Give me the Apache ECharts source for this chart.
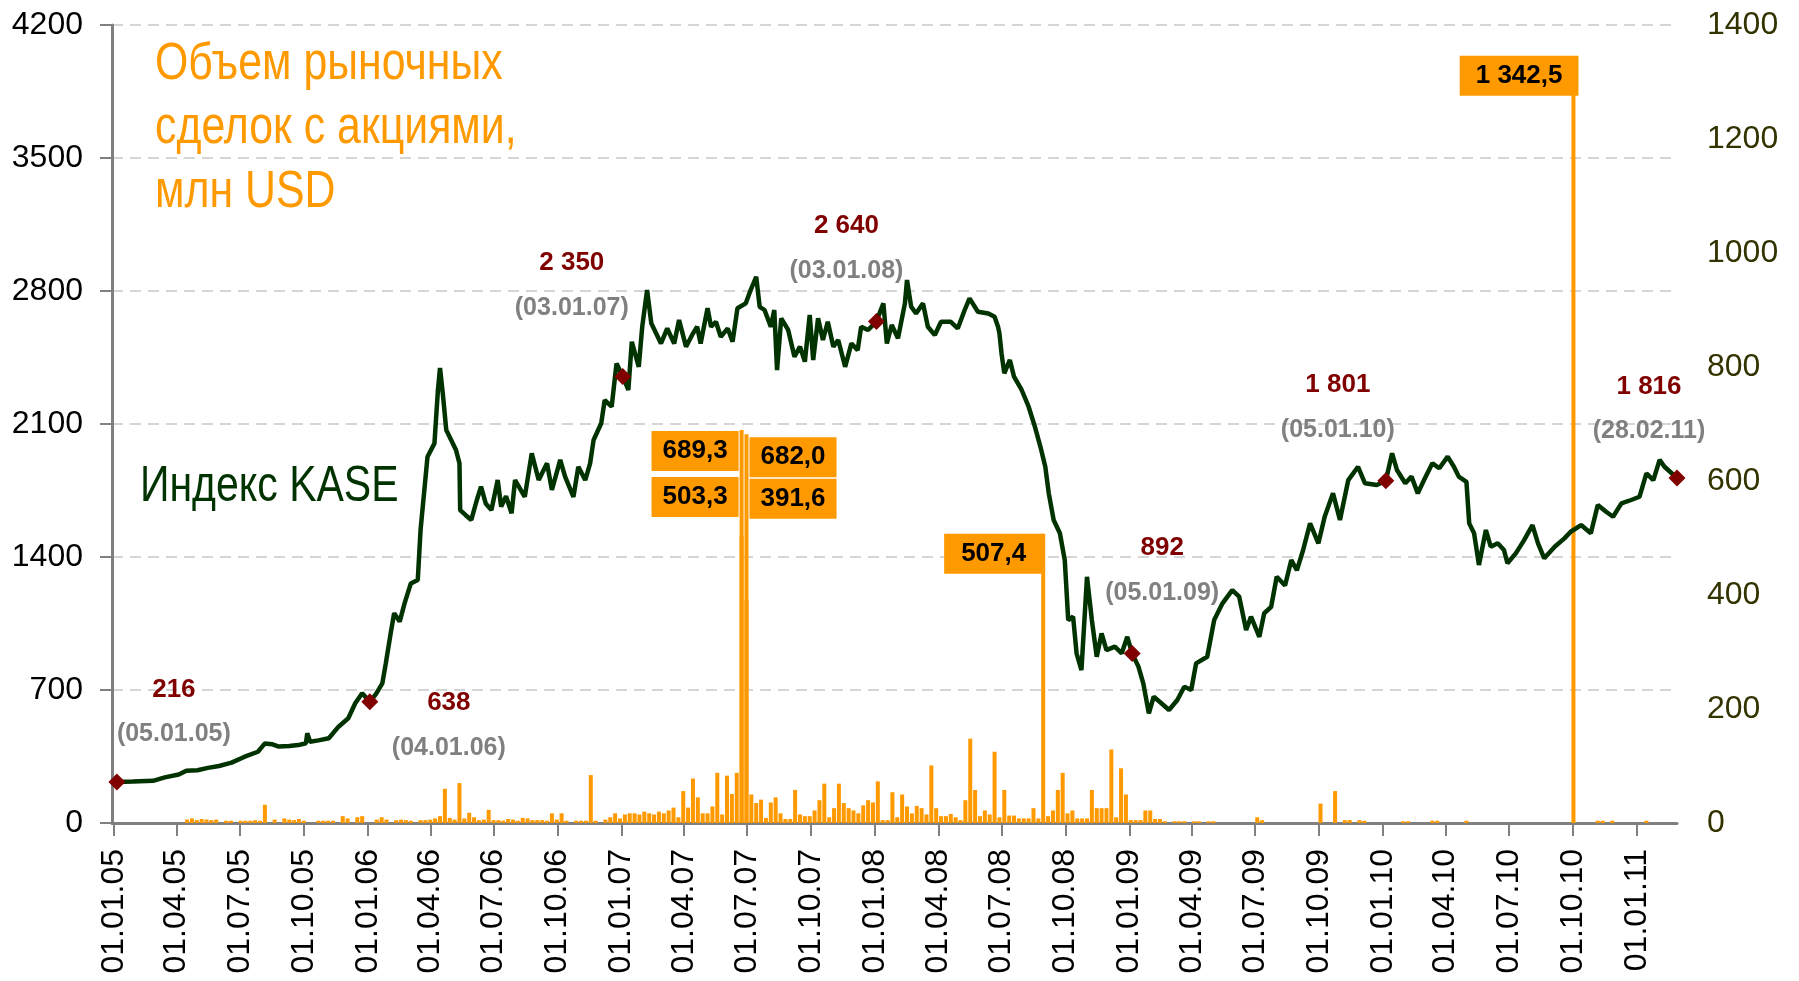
<!DOCTYPE html>
<html lang="ru">
<head>
<meta charset="UTF-8">
<title>Индекс KASE и объем сделок с акциями</title>
<script src="https://cdn.jsdelivr.net/npm/echarts@6/dist/echarts.min.js"></script>
<style>
  html, body { margin: 0; padding: 0; background: #fff; }
  #chart { width: 1799px; height: 981px; }
</style>
</head>
<body>
<div id="chart"></div>
<script>
// ---- data ----
let kaseDates = [
  '2005-01-05','2005-01-28','2005-02-26','2005-03-15','2005-04-04','2005-04-15','2005-05-01','2005-05-16','2005-06-01','2005-06-19',
  '2005-07-08','2005-07-27','2005-08-06','2005-08-16','2005-08-26','2005-09-10','2005-09-23','2005-10-04','2005-10-06','2005-10-10',
  '2005-10-22','2005-11-06','2005-11-20','2005-12-04','2005-12-14','2005-12-24','2006-01-04','2006-01-13','2006-01-22','2006-01-27',
  '2006-02-03','2006-02-08','2006-02-16','2006-02-23','2006-03-04','2006-03-14','2006-03-18','2006-03-28','2006-04-07','2006-04-12',
  '2006-04-15','2006-04-19','2006-04-24','2006-05-01','2006-05-08','2006-05-13','2006-05-14','2006-05-22','2006-05-30','2006-06-07',
  '2006-06-13','2006-06-20','2006-06-28','2006-07-07','2006-07-12','2006-07-19','2006-07-27','2006-08-01','2006-08-15','2006-08-25',
  '2006-09-04','2006-09-16','2006-09-23','2006-10-05','2006-10-12','2006-10-24','2006-10-31','2006-11-10','2006-11-17','2006-11-22',
  '2006-12-03','2006-12-08','2006-12-18','2006-12-25','2007-01-03','2007-01-11','2007-01-16','2007-01-26','2007-01-31','2007-02-07',
  '2007-02-13','2007-02-27','2007-03-08','2007-03-18','2007-03-25','2007-04-04','2007-04-13','2007-04-20','2007-04-25','2007-05-05',
  '2007-05-10','2007-05-17','2007-05-24','2007-06-03','2007-06-10','2007-06-17','2007-06-29','2007-07-06','2007-07-14','2007-07-19',
  '2007-07-26','2007-08-04','2007-08-09','2007-08-13','2007-08-19','2007-08-29','2007-09-07','2007-09-15','2007-09-22','2007-09-29',
  '2007-10-04','2007-10-11','2007-10-18','2007-10-25','2007-11-02','2007-11-09','2007-11-19','2007-11-28','2007-12-07','2007-12-12',
  '2007-12-22','2008-01-03','2008-01-13','2008-01-18','2008-01-25','2008-02-03','2008-02-13','2008-02-16','2008-02-22','2008-02-29',
  '2008-03-10','2008-03-17','2008-03-27','2008-04-05','2008-04-19','2008-04-29','2008-05-09','2008-05-16','2008-05-28','2008-06-12',
  '2008-06-21','2008-06-26','2008-06-28','2008-07-01','2008-07-05','2008-07-13','2008-07-19','2008-07-30','2008-08-09','2008-08-18',
  '2008-08-26','2008-09-02','2008-09-07','2008-09-14','2008-09-23','2008-09-30','2008-10-05','2008-10-12','2008-10-17','2008-10-24',
  '2008-11-01','2008-11-08','2008-11-15','2008-11-22','2008-11-29','2008-12-11','2008-12-21','2008-12-29','2009-01-05','2009-01-14',
  '2009-01-21','2009-01-29','2009-02-05','2009-02-16','2009-02-27','2009-03-11','2009-03-21','2009-03-31','2009-04-07','2009-04-23',
  '2009-05-03','2009-05-15','2009-05-29','2009-06-08','2009-06-18','2009-06-25','2009-07-07','2009-07-14','2009-07-24','2009-08-01',
  '2009-08-13','2009-08-22','2009-08-30','2009-09-08','2009-09-18','2009-09-30','2009-10-09','2009-10-21','2009-10-31','2009-11-12',
  '2009-11-26','2009-12-06','2009-12-23','2010-01-05','2010-01-14','2010-01-21','2010-02-02','2010-02-11','2010-02-20','2010-03-01',
  '2010-03-13','2010-03-23','2010-04-04','2010-04-13','2010-04-20','2010-05-01','2010-05-05','2010-05-12','2010-05-19','2010-05-29',
  '2010-06-05','2010-06-15','2010-06-24','2010-06-29','2010-07-11','2010-07-23','2010-08-04','2010-08-12','2010-08-21','2010-09-05',
  '2010-09-19','2010-09-28','2010-10-13','2010-10-27','2010-11-06','2010-11-18','2010-11-28','2010-12-10','2010-12-24','2011-01-05',
  '2011-01-15','2011-01-25','2011-02-03','2011-02-10','2011-02-28'
];
let kaseValues = [
  216,218,222,240,255,275,278,290,300,318,
  349,375,419,415,402,405,410,420,472,428,
  435,446,507,551,630,683,638,680,735,840,
  998,1104,1060,1156,1261,1279,1542,1928,1998,2279,
  2395,2261,2068,2016,1963,1893,1647,1620,1595,1700,
  1770,1680,1647,1805,1665,1720,1630,1805,1717,1946,
  1805,1893,1753,1911,1823,1717,1875,1805,1893,2016,
  2104,2226,2191,2419,2350,2279,2533,2401,2612,2805,
  2630,2524,2603,2524,2647,2507,2570,2612,2524,2709,
  2612,2638,2559,2603,2533,2709,2735,2805,2875,2717,
  2700,2612,2700,2384,2656,2595,2454,2507,2428,2674,
  2437,2656,2542,2638,2507,2542,2401,2524,2489,2612,
  2595,2640,2735,2524,2621,2551,2735,2858,2717,2682,
  2735,2612,2568,2638,2638,2603,2700,2761,2691,2682,
  2665,2612,2577,2472,2367,2437,2349,2279,2191,2086,
  1980,1875,1735,1595,1525,1384,1068,1086,893,805,
  1296,1068,875,998,910,928,893,980,892,823,
  735,577,665,630,595,647,717,700,840,875,
  1068,1156,1226,1191,1016,1086,980,1104,1138,1296,
  1250,1384,1330,1437,1577,1472,1612,1735,1595,1805,
  1875,1788,1779,1801,1946,1858,1788,1823,1735,1805,
  1893,1867,1928,1875,1823,1796,1577,1525,1358,1542,
  1454,1472,1437,1367,1419,1489,1568,1472,1393,1454,
  1498,1533,1568,1525,1674,1638,1612,1682,1700,1717,
  1840,1805,1911,1875,1816
];

// annotated points of the index
let markDates = ['2005-01-05','2006-01-04','2007-01-03','2008-01-03','2009-01-05','2010-01-05','2011-02-28'];
let markValues = [216, 638, 2350, 2640, 892, 1801, 1816];

// weekly market volume of share deals, mln USD (week i starts volumeStart + 7*i days)
let volumeStart = '2005-01-01';
let volumeWeekly = [
  0,0,0,0,0,0,0,0,0,0,
  0,0,0,0,0,6,8,5,7,6,
  5,6,0,4,4,0,4,4,4,5,
  4,32,0,6,0,8,6,5,7,4,
  0,0,4,4,4,4,0,12,8,0,
  10,12,0,0,6,10,6,0,5,6,
  5,4,0,5,5,6,8,12,60,9,
  6,70,8,18,10,5,6,23,5,5,
  4,7,6,4,9,8,5,5,5,4,
  17,6,17,4,0,4,4,4,84,4,
  0,6,10,17,8,15,17,17,15,20,
  17,15,20,17,22,27,10,56,27,78,
  45,17,17,29,88,15,83,51,88,689.3,
  682.0,50,35,41,9,36,45,17,7,7,
  58,15,12,12,22,40,69,10,26,69,
  35,26,22,17,31,40,36,73,5,5,
  54,10,50,29,17,30,26,15,101,26,
  12,12,16,10,5,40,148,58,12,22,
  15,125,10,58,13,13,8,8,8,26,
  8,507.4,12,22,58,88,17,22,8,8,
  8,58,26,26,26,129,10,96,50,5,
  5,5,22,22,7,7,3,0,3,3,
  3,0,3,3,0,3,3,0,0,0,
  0,0,0,0,0,10,5,0,0,0,
  0,0,0,0,0,0,0,0,34,0,
  0,56,0,5,5,0,5,4,0,0,
  0,0,0,0,0,3,3,0,0,0,
  0,4,4,0,0,0,0,0,4,0,
  0,0,0,0,0,0,0,0,0,0,
  0,0,0,0,0,0,0,0,0,0,
  1342.5,0,0,0,0,4,4,0,4,0,
  0,0,0,0,0,4,0,0,0,0,
  0,0
];
// two more values printed next to the big bars of mid-2007
let extraWeeks = [129, 130];
let extraValues = [503.3, 391.6];

let tickDates = [
  '2005-01-01','2005-04-01','2005-07-01','2005-10-01',
  '2006-01-01','2006-04-01','2006-07-01','2006-10-01',
  '2007-01-01','2007-04-01','2007-07-01','2007-10-01',
  '2008-01-01','2008-04-01','2008-07-01','2008-10-01',
  '2009-01-01','2009-04-01','2009-07-01','2009-10-01',
  '2010-01-01','2010-04-01','2010-07-01','2010-10-01',
  '2011-01-01'
];

// ---- helpers ----
const FONT = '"Liberation Sans", Arial, sans-serif';
const DAY = 86400000;
let parse = s => {
  let p = s.split('-');
  return Date.UTC(+p[0], +p[1] - 1, +p[2]);
};
let pad = n => (n < 10 ? '0' : '') + n;
function fmtDate(t) {
  let d = new Date(t);
  return pad(d.getUTCDate()) + '.' + pad(d.getUTCMonth() + 1) + '.' + String(d.getUTCFullYear()).slice(2);
}
function fmtNum(v, digits) {
  return v.toFixed(digits).replace('.', ',').replace(/\B(?=(\d{3})+(?!\d))/g, ' ');
}
let weekTime = i => parse(volumeStart) + i * 7 * DAY;

// ---- label placement (styles only) ----
let boxLabel = {
  show: true,
  backgroundColor: '#FF9900',
  color: '#000',
  fontWeight: 'bold',
  fontSize: 26,
  fontFamily: FONT,
  lineHeight: 26,
  padding: [7, 11],
  verticalAlign: 'top',
  formatter: p => fmtNum(p.value[1], 1)
};
let barLabels = {
  129: { position: [0, 0], align: 'right', offset: [-1, 1] },
  130: { position: ['100%', 0], align: 'left', offset: [1, 3] },
  191: { position: ['100%', 0], align: 'right', offset: [-2, 0], padding: [7, 17] },
  300: { position: ['100%', 0], align: 'right', offset: [3, -2], padding: [7, 16] }
};
let extraLabels = [
  { position: [0, 0], align: 'right', offset: [-1, -59] },
  { position: ['100%', 0], align: 'left', offset: [1, -121] }
];
let markOffsets = [[57, -70], [79, 24], [-51, -91], [-30, -73], [30, -83], [-48, -73], [-28, -69]];

let lineData = kaseDates.map((d, i) => [parse(d), kaseValues[i]]);
let barData = volumeWeekly.map((v, i) => {
  let item = { value: [weekTime(i), v] };
  if (barLabels[i]) item.label = Object.assign({}, boxLabel, barLabels[i]);
  return item;
});
let extraData = extraWeeks.map((w, i) => ({
  value: [weekTime(w), extraValues[i]],
  label: Object.assign({}, boxLabel, extraLabels[i])
}));
let markData = markDates.map((d, i) => ({
  coord: [parse(d), markValues[i]],
  value: markValues[i],
  name: fmtDate(parse(d)),
  label: { offset: markOffsets[i] }
}));
let ticks = tickDates.map(parse);

let chart = echarts.init(document.getElementById('chart'), null, { renderer: 'canvas' });

let option = {
  animation: false,
  backgroundColor: '#fff',
  textStyle: { fontFamily: FONT },
  grid: { left: 112, right: 122, top: 25, bottom: 158 },
  xAxis: {
    type: 'value',
    min: parse('2004-12-29'),
    max: parse('2011-02-28'),
    axisLine: { lineStyle: { color: '#808080', width: 3 } },
    axisTick: { show: true, length: 13, customValues: ticks, lineStyle: { color: '#808080', width: 2 } },
    axisLabel: {
      customValues: ticks,
      rotate: 90,
      fontSize: 32,
      color: '#000',
      fontFamily: FONT,
      margin: 26,
      formatter: v => fmtDate(v)
    },
    splitLine: { show: false }
  },
  yAxis: [
    {
      type: 'value',
      min: 0, max: 4200, interval: 700,
      axisLine: { show: true, lineStyle: { color: '#808080', width: 3 } },
      axisTick: { show: true, length: 12, lineStyle: { color: '#808080', width: 2 } },
      axisLabel: { fontSize: 32, color: '#000', fontFamily: FONT, margin: 29, formatter: v => String(v) },
      splitLine: { show: true, lineStyle: { color: '#c8c8c8', width: 1.5, type: [11, 7] } }
    },
    {
      type: 'value',
      min: 0, max: 1400, interval: 200,
      axisLine: { show: false },
      axisTick: { show: false },
      axisLabel: { fontSize: 32, color: '#333300', fontFamily: FONT, margin: 30, formatter: v => String(v) },
      splitLine: { show: false }
    }
  ],
  series: [
    {
      name: 'extra',
      type: 'bar',
      yAxisIndex: 1,
      barWidth: 4,
      barGap: '-100%',
      z: 1,
      itemStyle: { color: '#FF9900' },
      data: extraData
    },
    {
      name: 'Объем рыночных сделок с акциями, млн USD',
      type: 'bar',
      yAxisIndex: 1,
      barWidth: 4,
      barGap: '-100%',
      z: 2,
      itemStyle: { color: '#FF9900' },
      data: barData
    },
    {
      name: 'Индекс KASE',
      type: 'line',
      yAxisIndex: 0,
      z: 3,
      showSymbol: false,
      lineStyle: { color: '#003300', width: 4.5 },
      data: lineData,
      markPoint: {
        symbol: 'diamond',
        symbolSize: 17,
        itemStyle: { color: '#800000' },
        label: {
          show: true,
          position: 'inside',
          align: 'center',
          verticalAlign: 'middle',
          formatter: p => '{v|' + fmtNum(p.value, 0) + '}\n{d|(' + p.name + ')}',
          rich: {
            v: { color: '#800000', fontWeight: 'bold', fontSize: 26, fontFamily: FONT, lineHeight: 45, align: 'center' },
            d: { color: '#808080', fontWeight: 'bold', fontSize: 25, fontFamily: FONT, lineHeight: 45, align: 'center' }
          }
        },
        data: markData
      }
    }
  ],
  graphic: [
    {
      type: 'text',
      x: 155, y: 33,
      scaleX: 0.84,
      style: {
        text: 'Объем рыночных\nсделок с акциями,\nмлн USD',
        fill: '#FF9900',
        fontSize: 51,
        fontFamily: FONT,
        lineHeight: 64
      }
    },
    {
      type: 'text',
      x: 140, y: 462,
      scaleX: 0.82,
      style: {
        text: 'Индекс KASE',
        fill: '#003300',
        fontSize: 50,
        fontFamily: FONT
      }
    }
  ]
};

chart.setOption(option);
</script>
</body>
</html>
